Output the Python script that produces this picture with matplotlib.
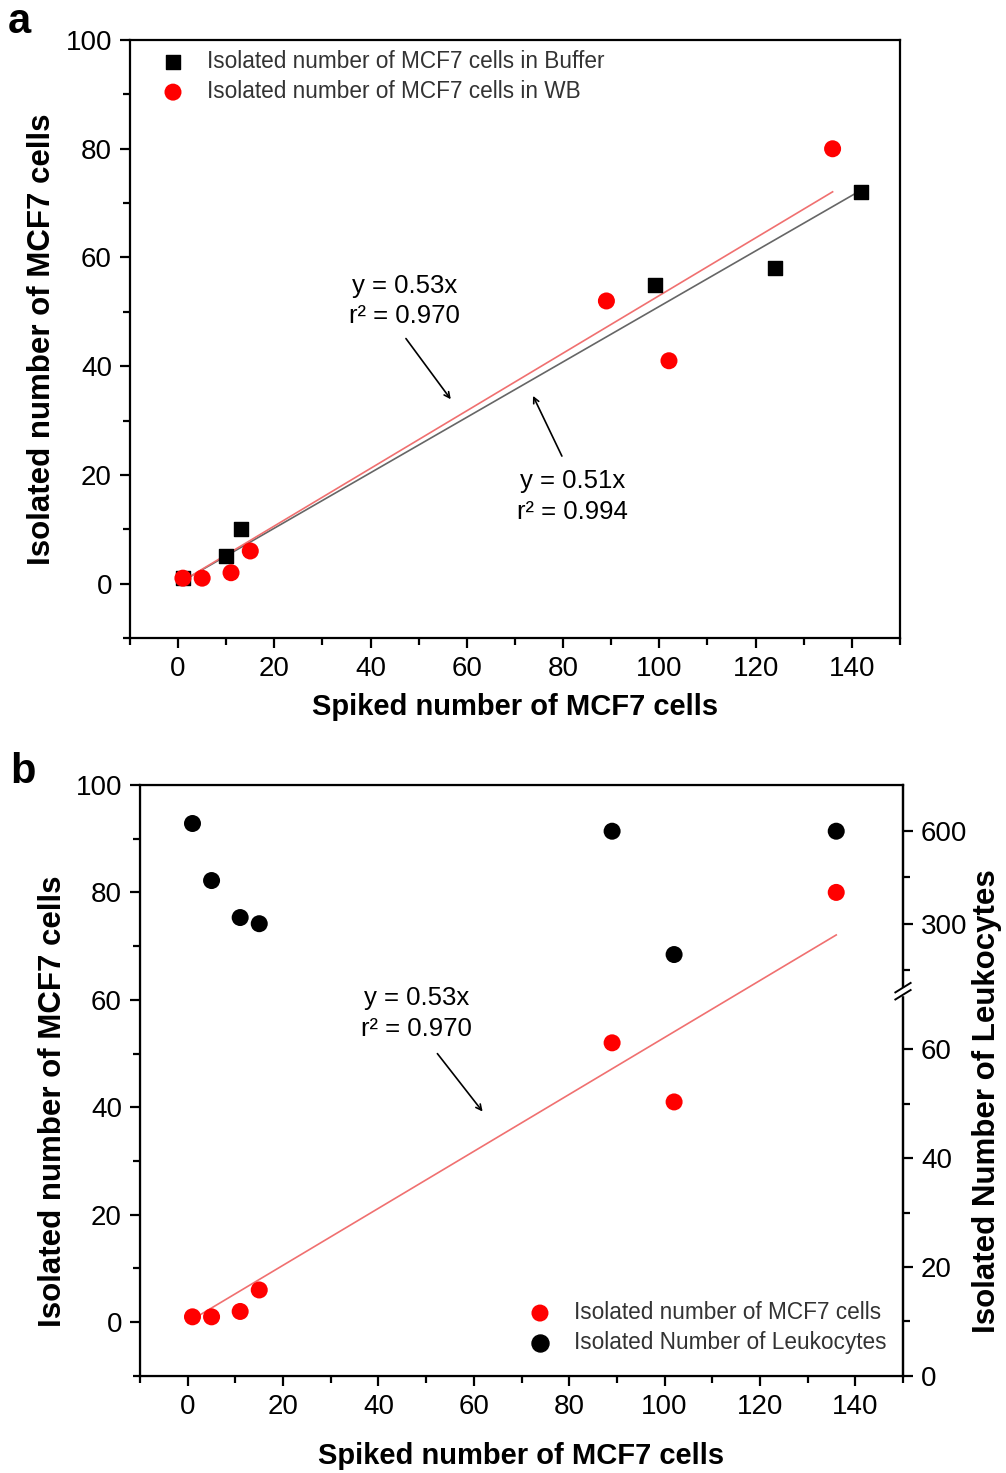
import numpy as np
import matplotlib
matplotlib.use("Agg")
import matplotlib.pyplot as plt
from matplotlib.ticker import MultipleLocator, FixedLocator

plt.rcParams['font.family'] = ['Liberation Sans', 'DejaVu Sans']

# panel a data
buf_x = [1, 10, 13, 99, 124, 142]
buf_y = [1, 5, 10, 55, 58, 72]
wb_x = [1, 5, 11, 15, 89, 102, 136]
wb_y = [1, 1, 2, 6, 52, 41, 80]
slope_wb = 0.53
slope_buf = 0.51

# panel b data
leuko_x = [1, 5, 11, 15, 89, 102, 136]
leuko_y = [625, 440, 320, 300, 600, 200, 600]

fig = plt.figure(figsize=(10.06, 14.73), dpi=100)
ax1 = fig.add_axes([0.1292, 0.5669, 0.7654, 0.4059])
ax2 = fig.add_axes([0.1392, 0.0659, 0.7584, 0.4012])

TICK_FS = 20
LAB_FS = 21
YLAB_FS = 22.5
LEG_FS = 16.3
ANN_FS = 18.5


def style_axis(ax):
    for s in ax.spines.values():
        s.set_linewidth(1.6)
    ax.set_xlim(-10, 150)
    ax.set_ylim(-10, 100)
    ax.xaxis.set_major_locator(MultipleLocator(20))
    ax.xaxis.set_minor_locator(MultipleLocator(10))
    ax.yaxis.set_major_locator(MultipleLocator(20))
    ax.yaxis.set_minor_locator(MultipleLocator(10))
    ax.tick_params(which='both', direction='out', width=1.6, top=False, right=False)
    ax.tick_params(which='major', length=7, labelsize=TICK_FS, pad=6)
    ax.tick_params(which='minor', length=5)


# ---- panel a ----
style_axis(ax1)
xa = np.array([1, 136])
xb = np.array([1, 142])
ax1.plot(xb, slope_buf * xb, color='#666666', lw=1.2, zorder=2)
ax1.plot(xa, slope_wb * xa, color='#f07070', lw=1.2, zorder=2)
ax1.scatter(buf_x, buf_y, marker='s', s=110, color='black', zorder=3,
            label='Isolated number of MCF7 cells in Buffer')
ax1.scatter(wb_x, wb_y, marker='o', s=150, color='red', edgecolors='none', zorder=3,
            label='Isolated number of MCF7 cells in WB')
leg = ax1.legend(loc='upper left', bbox_to_anchor=(0.0, 1.017), frameon=False,
                 fontsize=LEG_FS, handletextpad=0.5, labelspacing=0.3)
for t in leg.get_texts():
    t.set_color('#333333')
ax1.set_xlabel('Spiked number of MCF7 cells', fontsize=LAB_FS, fontweight='bold', labelpad=8)
ax1.set_ylabel('Isolated number of MCF7 cells', fontsize=YLAB_FS, fontweight='bold', labelpad=6)
ax1.text(47, 52, 'y = 0.53x\nr\u00b2 = 0.970', fontsize=ANN_FS, ha='center', va='center',
         linespacing=1.35)
ax1.annotate('', xy=(57, 33.5), xytext=(47, 45.5),
             arrowprops=dict(arrowstyle='->', color='black', lw=1.2))
ax1.text(82, 16, 'y = 0.51x\nr\u00b2 = 0.994', fontsize=ANN_FS, ha='center', va='center',
         linespacing=1.35)
ax1.annotate('', xy=(73.5, 35), xytext=(80, 23),
             arrowprops=dict(arrowstyle='->', color='black', lw=1.2))

# ---- panel b ----
style_axis(ax2)
ax2.plot(xa, slope_wb * xa, color='#f07070', lw=1.2, zorder=2)
ax2.scatter(wb_x, wb_y, marker='o', s=150, color='red', edgecolors='none', zorder=3,
            label='Isolated number of MCF7 cells')
ax2.scatter([], [], marker='o', s=150, color='black', label='Isolated Number of Leukocytes')
leg2 = ax2.legend(loc='lower right', bbox_to_anchor=(1.005, 0.003), frameon=False,
                  fontsize=LEG_FS, handletextpad=0.5, labelspacing=0.3)
for t in leg2.get_texts():
    t.set_color('#333333')
ax2.set_xlabel('Spiked number of MCF7 cells', fontsize=LAB_FS, fontweight='bold', labelpad=16)
ax2.set_ylabel('Isolated number of MCF7 cells', fontsize=YLAB_FS, fontweight='bold')
ax2.yaxis.set_label_coords(-0.094, 0.465)
ax2.text(48, 57.5, 'y = 0.53x\nr\u00b2 = 0.970', fontsize=ANN_FS, ha='center', va='center',
         linespacing=1.35)
ax2.annotate('', xy=(62.2, 38.8), xytext=(52, 50.4),
             arrowprops=dict(arrowstyle='->', color='black', lw=1.2))

# right axis with a broken scale
knee = 70.0
k = 0.0566


def fwd(v):
    v = np.asarray(v, dtype=float)
    return np.where(v <= knee, v, knee + (v - knee) * k)


def inv(u):
    u = np.asarray(u, dtype=float)
    return np.where(u <= knee, u, knee + (u - knee) / k)


ax3 = ax2.twinx()
ax3.set_yscale('function', functions=(fwd, inv))
ax3.set_ylim(0, 750)
ax3.yaxis.set_major_locator(FixedLocator([0, 20, 40, 60, 300, 600]))
ax3.yaxis.set_minor_locator(FixedLocator([10, 30, 50, 150, 450]))
ax3.tick_params(which='both', direction='out', width=1.6)
ax3.tick_params(which='major', length=7, labelsize=TICK_FS, pad=6)
ax3.tick_params(which='minor', length=5)
ax3.spines['right'].set_linewidth(1.6)
ax3.scatter(leuko_x, leuko_y, marker='o', s=150, color='black', edgecolors='none', zorder=3)
ax3.set_ylabel('Isolated Number of Leukocytes', fontsize=YLAB_FS, fontweight='bold')
ax3.yaxis.set_label_coords(1.09, 0.465)

# break marks on the right spine
yb = 0.651
ax3.add_patch(plt.Rectangle((0.99, yb - 0.006), 0.02, 0.012, transform=ax3.transAxes,
                            color='white', clip_on=False, zorder=5))
for dy in (-0.006, 0.006):
    ax3.plot([0.99, 1.01], [yb + dy - 0.008, yb + dy + 0.008], transform=ax3.transAxes,
             color='black', lw=1.4, clip_on=False, zorder=6)

# panel letters
fig.text(0.008, 0.985, 'a', fontsize=30, fontweight='bold', va='center')
fig.text(0.010, 0.476, 'b', fontsize=30, fontweight='bold', va='center')

fig.savefig('out.png', dpi=100)
